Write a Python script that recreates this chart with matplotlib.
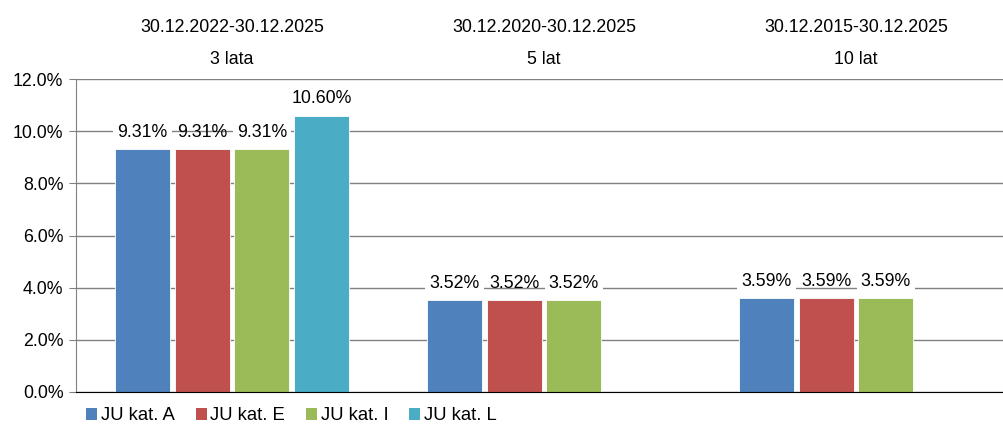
import matplotlib
matplotlib.use("Agg")
import matplotlib.pyplot as plt
from matplotlib.patches import Patch
import numpy as np

plt.rcParams['font.family'] = ['Liberation Sans', 'DejaVu Sans']

periods = ["30.12.2022-30.12.2025", "30.12.2020-30.12.2025", "30.12.2015-30.12.2025"]
horizons = ["3 lata", "5 lat", "10 lat"]
series_names = ["JU kat. A", "JU kat. E", "JU kat. I", "JU kat. L"]
colors = ["#4F81BD", "#C0504D", "#9BBB59", "#4BACC6"]
kat_A = [9.31, 3.52, 3.59]
kat_E = [9.31, 3.52, 3.59]
kat_I = [9.31, 3.52, 3.59]
kat_L = [10.60, None, None]
yticks = [0, 2, 4, 6, 8, 10, 12]

series = [kat_A, kat_E, kat_I, kat_L]
FS = 12.8

fig = plt.figure(figsize=(10.04, 4.24), dpi=100)
ax = fig.add_axes([76/1004, 1 - 392/424, 936/1004, 313/424])

slot = 0.191
width = 0.176
x = np.arange(len(periods))
for i, (vals, col) in enumerate(zip(series, colors)):
    off = (i - 1.5) * slot
    for j, v in enumerate(vals):
        if v is None:
            continue
        ax.bar(x[j] + off, v, width, color=col, edgecolor='white', linewidth=0.6, zorder=2)
        bbox = None if i == 1 else dict(facecolor='white', edgecolor='none', pad=3)
        ax.annotate(f"{v:.2f}%", (x[j] + off, v), xytext=(0, 6), textcoords='offset points',
                    ha='center', va='bottom', fontsize=FS, color='black', bbox=bbox, zorder=4)

ax.set_xlim(-0.5, 2.5)
ax.set_ylim(0, 12)
ax.set_yticks(yticks)
ax.set_yticklabels([f"{t:.1f}%" for t in yticks], fontsize=FS)
ax.set_xticks([])
ax.yaxis.grid(True, color='#808080', linewidth=1, zorder=0)
ax.set_axisbelow(True)
for s in ['top', 'right']:
    ax.spines[s].set_visible(False)
ax.spines['left'].set_color('#808080')
ax.spines['bottom'].set_color('black')
ax.tick_params(axis='y', direction='out', length=5, color='#808080', pad=4)

for j in range(len(periods)):
    ax.text(x[j], 1.0 + 51/313, periods[j], transform=ax.get_xaxis_transform(),
            ha='center', va='center', fontsize=FS)
    ax.text(x[j], 1.0 + 20/313, horizons[j], transform=ax.get_xaxis_transform(),
            ha='center', va='center', fontsize=FS)

handles = [Patch(facecolor=c, edgecolor='none') for c in colors]
fig.legend(handles, series_names, loc='center left', bbox_to_anchor=(86/1004, 1 - 416/424),
           ncol=4, frameon=False, fontsize=13.3, handlelength=0.6, handleheight=0.6,
           handletextpad=0.2, columnspacing=1.13, borderaxespad=0, borderpad=0)

fig.savefig("out.png", dpi=100)
